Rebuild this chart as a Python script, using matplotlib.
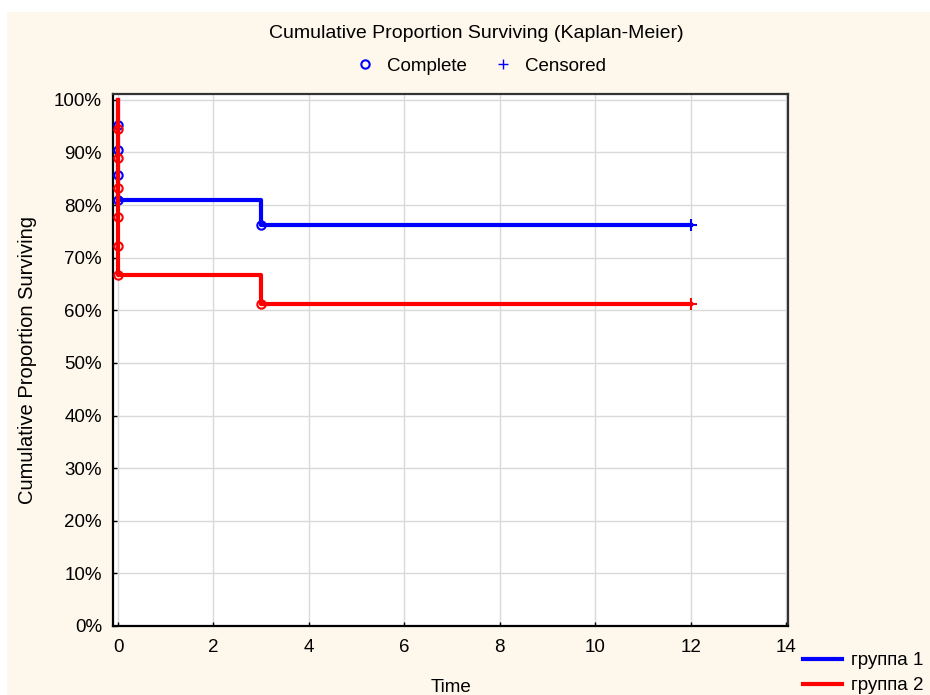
import matplotlib
matplotlib.use("Agg")
import matplotlib.pyplot as plt
from matplotlib.lines import Line2D
from matplotlib.patches import Rectangle

plt.rcParams['font.family'] = ['Liberation Sans', 'DejaVu Sans']

# Kaplan-Meier curves (survival in %)
g1_time = [0, 0, 3, 12]
g1_surv = [100.0, 81.0, 76.2, 76.2]
g1_complete_t = [0, 0, 0, 0, 3]
g1_complete_s = [95.2, 90.5, 85.7, 81.0, 76.2]
g1_censored_t = [12]
g1_censored_s = [76.2]

g2_time = [0, 0, 3, 12]
g2_surv = [100.0, 66.7, 61.1, 61.1]
g2_complete_t = [0, 0, 0, 0, 0, 0, 3]
g2_complete_s = [94.4, 88.9, 83.3, 77.8, 72.2, 66.7, 61.1]
g2_censored_t = [12]
g2_censored_s = [61.1]

group_names = ["группа 1", "группа 2"]
x_ticks = [0, 2, 4, 6, 8, 10, 12, 14]
y_ticks = [0, 10, 20, 30, 40, 50, 60, 70, 80, 90, 100]

BG = "#fef8ec"
FS = 13.5

fig = plt.figure(figsize=(9.3, 6.95), dpi=100)
fig.patch.set_facecolor("white")
# cream panel (white strip on top and left like the original)
fig.patches.append(Rectangle((7 / 930, 0), 1, 1 - 12 / 695, transform=fig.transFigure,
                             facecolor=BG, edgecolor="none", zorder=-10))

ax = fig.add_axes([113 / 930, 1 - 626 / 695, 675 / 930, 532 / 695])
ax.set_facecolor("white")

for spine in ax.spines.values():
    spine.set_linewidth(1.6)
    spine.set_color("black")
ax.spines["right"].set_color("#333333")
ax.spines["top"].set_color("#333333")

ax.grid(True, color="#d9d9d9", linewidth=1)
ax.set_axisbelow(True)

# group 1 (blue)
ax.step(g1_time, g1_surv, where="post", color="#0000ff", linewidth=3, zorder=3)
ax.plot(g1_complete_t, g1_complete_s, "o", mfc="none", mec="#0000ff", mew=1.5,
        markersize=6, zorder=4)
ax.plot(g1_censored_t, g1_censored_s, "+", color="#0000ff", mew=1.5,
        markersize=8, zorder=4)

# group 2 (red)
ax.step(g2_time, g2_surv, where="post", color="#ff0000", linewidth=3, zorder=5)
ax.plot(g2_complete_t, g2_complete_s, "o", mfc="none", mec="#ff0000", mew=1.5,
        markersize=6, zorder=6)
ax.plot(g2_censored_t, g2_censored_s, "+", color="#ff0000", mew=1.5,
        markersize=8, zorder=6)

ax.set_xlim(-0.105, 14.04)
ax.set_ylim(0, 101.1)
ax.set_xticks(x_ticks)
ax.set_yticks(y_ticks)
ax.set_yticklabels([f"{v}%" for v in y_ticks])
ax.tick_params(direction="in", length=3, width=1, labelsize=FS, pad=8,
               colors="black")
ax.tick_params(axis="x", pad=9)

ax.set_xlabel("Time", fontsize=FS, labelpad=17)
ax.set_ylabel("Cumulative Proportion Surviving", fontsize=14.5, labelpad=12)

fig.text(0.512, 1 - 34 / 695, "Cumulative Proportion Surviving (Kaplan-Meier)",
         ha="center", va="center", fontsize=14)

# marker legend under the title
marker_handles = [
    Line2D([], [], linestyle="none", marker="o", mfc="none", mec="#0000ff",
           mew=1.5, markersize=6),
    Line2D([], [], linestyle="none", marker="+", color="#0000ff", mew=1,
           markersize=7),
]
fig.legend(marker_handles, ["Complete", "Censored"], loc="center",
           bbox_to_anchor=(480 / 930, 1 - 66 / 695), ncol=2, frameon=False,
           fontsize=FS, handlelength=1.2, columnspacing=1.3, handletextpad=0.6,
           borderaxespad=0, borderpad=0)

# group legend in the lower right
group_handles = [
    Line2D([], [], color="#0000ff", linewidth=3),
    Line2D([], [], color="#ff0000", linewidth=3),
]
fig.legend(group_handles, group_names, loc="upper left",
           bbox_to_anchor=(803 / 930, 1 - 652 / 695), frameon=False,
           fontsize=FS, handlelength=2.1, handletextpad=0.45, labelspacing=0.42,
           borderaxespad=0, borderpad=0)

fig.savefig("out.png", dpi=100, facecolor=fig.get_facecolor())
